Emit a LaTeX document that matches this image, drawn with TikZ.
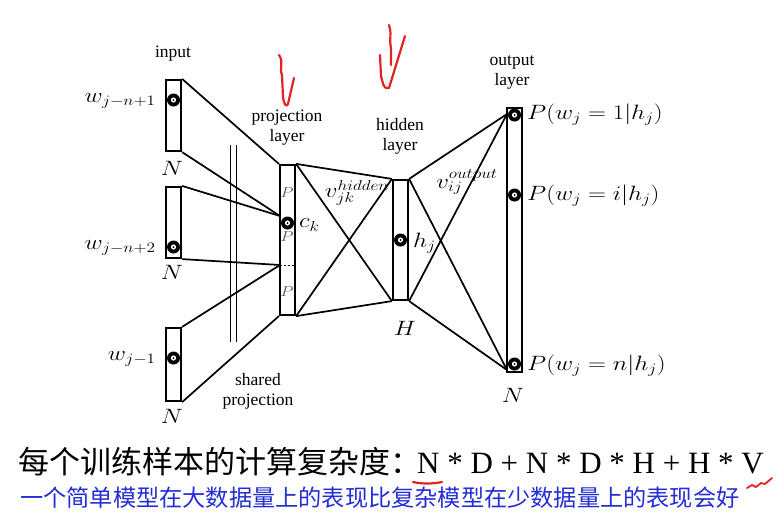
\documentclass[tikz,border=0pt]{standalone}
\usepackage{graphicx}
\usepackage{fontspec}
\setmainfont{Liberation Serif}
\newfontfamily\cjk{Noto Sans CJK SC}
\definecolor{penred}{RGB}{225,35,35}
\definecolor{penblue}{RGB}{35,45,215}
\newcommand{\mxs}[1]{\scalebox{1.2}[1]{$#1$}}
\begin{document}
\begin{tikzpicture}[x=1pt,y=-1pt,
  layerbox/.style={draw,line width=2.2pt,minimum width=15pt,inner sep=0pt},
  conn/.style={line width=1.7pt},
  lbl/.style={font=\fontsize{17.5}{20}\selectfont,align=center,inner sep=0pt},
  mlbl/.style={font=\fontsize{20}{22}\selectfont,inner sep=0pt},
  plbl/.style={font=\fontsize{15}{16}\selectfont,text=black!65,inner sep=0pt},
  pen/.style={penred,line width=2.2pt,line cap=round,line join=round}]
\useasboundingbox (0,0) rectangle (784,517);
% boxes
\node[layerbox,minimum height=71pt] (in1) at (173.5,115.5) {};
\node[layerbox,minimum height=71pt] (in2) at (173.5,222.5) {};
\node[layerbox,minimum height=73pt] (in3) at (173.5,364.5) {};
\node[layerbox,minimum height=150pt] (proj) at (287.5,240) {};
\node[layerbox,minimum height=120pt] (hid) at (400.5,240) {};
\node[layerbox,minimum height=264pt] (out) at (514.5,240) {};
% join points
\coordinate (ckin) at (280,216);
\coordinate (dashL) at (280,265);
\coordinate (outtop) at (507,114);
\coordinate (outbot) at (507,370);
% dots
\foreach \p in {(173.5,100),(173.5,247),(173.5,358),(287.5,223),(400.5,240),(514.5,115),(514.5,195),(514.5,364)}{
  \fill \p circle (6.5pt);
  \fill[white] \p circle (2.6pt);
  \fill \p circle (1pt);
}
% input -> projection
\draw[conn] (in1.north east) -- (proj.north west);
\draw[conn] (in1.south east) -- (ckin);
\draw[conn] (in2.north east) -- (ckin);
\draw[conn] (in2.south east) -- (dashL);
\draw[conn] (in3.north east) -- (dashL);
\draw[conn] (in3.south east) -- (proj.south west);
\draw[line width=0.9pt,dash pattern=on 2pt off 2pt] (dashL) -- (294,265);
% shared projection double line
\draw[line width=0.9pt] (230,145) -- (230,342);
\draw[line width=0.9pt] (236,145) -- (236,342);
% projection -> hidden
\draw[conn] (proj.north east) -- (hid.north west);
\draw[conn] (proj.north east) -- (hid.south west);
\draw[conn] (proj.south east) -- (hid.north west);
\draw[conn] (proj.south east) -- (hid.south west);
% hidden -> output
\draw[conn] (hid.north east) -- (outtop);
\draw[conn] (hid.south east) -- (outtop);
\draw[conn] (hid.north east) -- (outbot);
\draw[conn] (hid.south east) -- (outbot);
% labels
\node[lbl] (tin) at (173,54) {input};
\node[lbl] (tproj) at (287,128) {projection\\layer};
\node[lbl] (thid) at (400,136) {hidden\\layer};
\node[lbl] (tout) at (512,72) {output\\layer};
\node[lbl] (tshared) at (258,391) {shared\\projection};
\node[mlbl] (n1) at (172,168) {\mxs{N}};
\node[mlbl] (n2) at (172,272) {\mxs{N}};
\node[mlbl] (n3) at (172,416) {\mxs{N}};
\node[mlbl] (n4) at (513,395) {\mxs{N}};
\node[mlbl] (nh) at (405,328) {\mxs{H}};
\node[plbl] (p1) at (287,193) {\mxs{P}};
\node[plbl] (p2) at (287,237) {\mxs{P}};
\node[plbl] (p3) at (287,292) {\mxs{P}};
\node[mlbl,anchor=west] (ck) at (299,225) {\mxs{c_k}};
\node[mlbl,anchor=west] (hj) at (413,243) {\mxs{h_j}};
\node[mlbl] (vh) at (357,193) {\mxs{v_{jk}^{hidden}}};
\node[mlbl] (vo) at (467,182) {\mxs{v_{ij}^{output}}};
\node[mlbl,anchor=east] (w1) at (156,101) {\mxs{w_{j-n+1}}};
\node[mlbl,anchor=east] (w2) at (156,248) {\mxs{w_{j-n+2}}};
\node[mlbl,anchor=east] (w3) at (156,359) {\mxs{w_{j-1}}};
\node[mlbl,anchor=west] (po1) at (527,115) {\mxs{P(w_j=1|h_j)}};
\node[mlbl,anchor=west] (po2) at (527,196) {\mxs{P(w_j=i|h_j)}};
\node[mlbl,anchor=west] (po3) at (527,366) {\mxs{P(w_j=n|h_j)}};
% bottom text
\node[anchor=base west,inner sep=0pt,font=\cjk\fontsize{31}{33}\selectfont] (cx) at (18,473) {每个训练样本的计算复杂度：};
\node[anchor=base west,inner sep=0pt,font=\fontsize{31}{33}\selectfont] (fx) at (417,473) {N * D + N * D * H + H * V};
\node[anchor=base west,inner sep=0pt,text=penblue,font=\cjk\fontsize{23.2}{25}\selectfont] (bx) at (20,506) {一个简单模型在大数据量上的表现比复杂模型在少数据量上的表现会好};
% red pen marks
\draw[pen] (279,55) .. controls (284,62) and (279,68) .. (282,75) -- (283,97) .. controls (284,104) and (286,108) .. (288,104) -- (294,78);
\draw[pen] (389,25) .. controls (392,32) and (389,40) .. (391,48) -- (391,65);
\draw[pen] (380,55) -- (381,76) .. controls (383,84) and (384,90) .. (389,88) -- (405,36);
\draw[pen] (413,482) .. controls (422,484) and (432,484) .. (442,482);
\draw[pen,line width=1.8pt] (747,488) -- (752,485) -- (756,487) -- (761,483) -- (765,484) -- (772,478);
\end{tikzpicture}
\end{document}
